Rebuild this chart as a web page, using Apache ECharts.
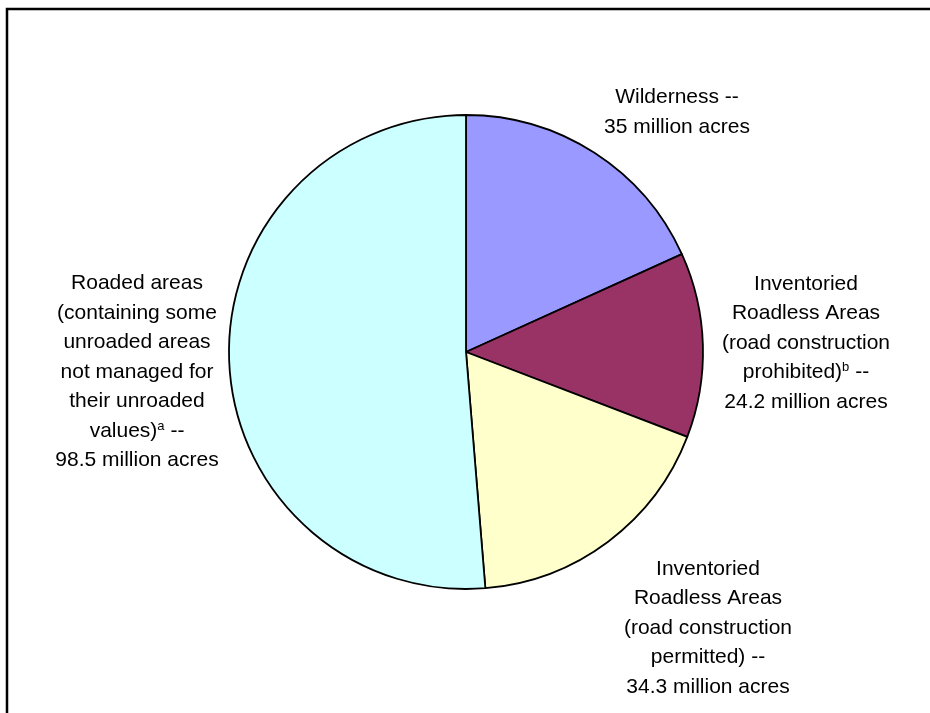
<!DOCTYPE html>
<html>
<head>
<meta charset="utf-8">
<style>
  html, body { margin: 0; padding: 0; background: #fff; }
  #chart { width: 930px; height: 713px; }
</style>
<script src="https://cdn.jsdelivr.net/npm/echarts@6/dist/echarts.min.js"></script>
</head>
<body>
<div id="chart"></div>
<script>
// National Forest System land, million acres
const categories = [
  'Wilderness',
  'Inventoried Roadless Areas (road construction prohibited)',
  'Inventoried Roadless Areas (road construction permitted)',
  'Roaded areas'
];
const acres = [35, 24.2, 34.3, 98.5];
const sliceColors = ['#9999FF', '#993366', '#FFFFCC', '#CCFFFF'];
const labelTexts = [
  'Wilderness --\n35 million acres',
  'Inventoried\nRoadless Areas\n(road construction\nprohibited){sup|b} --\n24.2 million acres',
  'Inventoried\nRoadless Areas\n(road construction\npermitted) --\n34.3 million acres',
  'Roaded areas\n(containing some\nunroaded areas\nnot managed for\ntheir unroaded\nvalues){sup|a} --\n98.5 million acres'
];
// label block centres
const labelCenters = [[677, 112], [806, 343], [708, 628], [137, 372]];

const chart = echarts.init(document.getElementById('chart'), null, { renderer: 'canvas' });

const FONT = '"Liberation Sans", Arial, sans-serif';

chart.setOption({
  backgroundColor: '#fff',
  animation: false,
  graphic: [{
    type: 'rect',
    shape: { x: 7, y: 9, width: 1200, height: 1200 },
    style: { fill: 'none', stroke: '#000', lineWidth: 2.5 },
    silent: true,
    z: 0
  }],
  series: [{
    type: 'pie',
    center: [466, 352],
    radius: [0, 237],
    startAngle: 90,
    clockwise: true,
    avoidLabelOverlap: false,
    itemStyle: { borderColor: '#000', borderWidth: 1.8 },
    label: {
      show: true,
      position: 'outside',
      color: '#000',
      fontFamily: FONT,
      fontSize: 21,
      lineHeight: 29.5,
      align: 'center',
      rich: {
        sup: { fontSize: 13, fontFamily: FONT, color: '#000', padding: [0, 0, 10, 0] }
      }
    },
    labelLine: { show: false },
    labelLayout: function (params) {
      const c = labelCenters[params.dataIndex];
      return { x: c[0], y: c[1], align: 'center', verticalAlign: 'middle' };
    },
    emphasis: { disabled: true },
    data: categories.map((name, i) => ({
      name: name,
      value: acres[i],
      itemStyle: { color: sliceColors[i] },
      label: { formatter: labelTexts[i] }
    }))
  }]
});
</script>
</body>
</html>
